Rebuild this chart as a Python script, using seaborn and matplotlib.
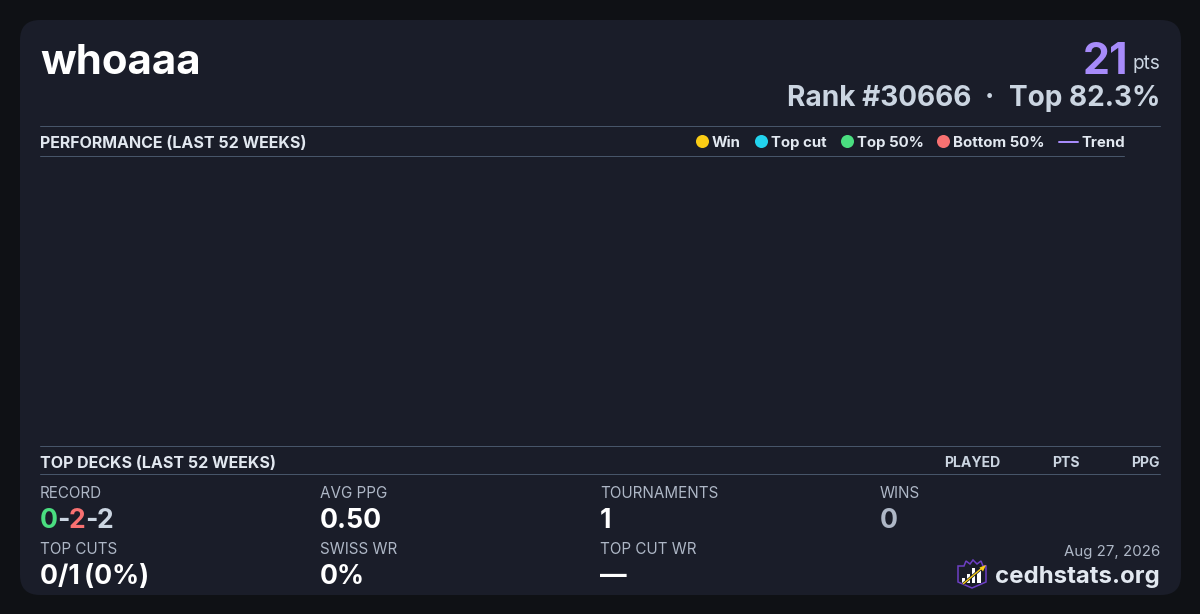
import matplotlib
matplotlib.use('Agg')
import matplotlib.pyplot as plt
from matplotlib.patches import FancyBboxPatch, Polygon, Rectangle
import seaborn as sns
import pandas as pd

player = 'whoaaa'
points = '21'
rank_text = 'Rank #30666'
top_text = 'Top 82.3%'
perf_title = 'PERFORMANCE (LAST 52 WEEKS)'
decks_title = 'TOP DECKS (LAST 52 WEEKS)'
deck_cols = ['PLAYED', 'PTS', 'PPG']
legend_names = ['Win', 'Top cut', 'Top 50%', 'Bottom 50%']
legend_colors = ['#facc15', '#22d3ee', '#4ade80', '#f87171']
stat_labels = ['RECORD', 'AVG PPG', 'TOURNAMENTS', 'WINS', 'TOP CUTS', 'SWISS WR', 'TOP CUT WR']
stat_values = [None, '0.50', '1', '0', '0/1\u2009(0%)', '0%', '—']
record_parts = ['0', '-', '2', '-', '2']
record_colors = ['#4ade80', '#cbd5e1', '#f87171', '#cbd5e1', '#cbd5e1']
date_text = 'Aug 27, 2026'
site = 'cedhstats.org'

PX = 0.72  # px to pt at dpi 100
BG = '#0f1115'
CARD = '#1a1d29'
RULE = '#475569'
WHITE = '#ffffff'
LIGHT = '#e2e8f0'
MUTED = '#cbd5e1'
GREY = '#aeb7c6'
PURPLE = '#a78bfa'

sns.set_theme(style='dark', rc={'figure.facecolor': BG, 'axes.facecolor': BG})
plt.rcParams['font.family'] = ['Inter', 'DejaVu Sans']

fig = plt.figure(figsize=(12, 6.14), dpi=100)
ax = fig.add_axes([0, 0, 1, 1])
ax.set_xlim(0, 1200)
ax.set_ylim(614, 0)
ax.axis('off')


def txt(x, y, s, size, color, weight='normal', ha='left'):
    return ax.text(x, y, s, fontsize=size * PX, color=color, fontweight=weight,
                   ha=ha, va='baseline')


ax.add_patch(FancyBboxPatch((20, 20), 1161, 575, boxstyle='round,pad=0,rounding_size=20',
                            fc=CARD, ec='none', zorder=0))

# header
txt(40, 74, player, 42, WHITE, 'bold')
txt(1160, 69, 'pts', 19, MUTED, ha='right')
txt(1128, 74, points, 43, PURPLE, 'bold', ha='right')
txt(989, 106, '·', 28, MUTED, 'bold', ha='center')
txt(971, 106, rank_text, 28, MUTED, 'bold', ha='right')
txt(1160, 106, top_text, 28, MUTED, 'bold', ha='right')

# section rules
for x1, y in [(1160, 126), (1124, 156), (1160, 446), (1160, 474)]:
    ax.plot([40, x1], [y, y], color=RULE, lw=0.72)
txt(40, 148, perf_title, 16, LIGHT, 'bold')
txt(40, 468, decks_title, 16, LIGHT, 'bold')

# legend row
legend_df = pd.DataFrame({'x': [702.5, 761.5, 847.5, 943.5], 'y': [141.5] * 4, 'name': legend_names})
sns.scatterplot(data=legend_df, x='x', y='y', hue='name', palette=legend_colors,
                s=88, marker='o', linewidth=0, legend=False, ax=ax, zorder=3)
ax.set_xlabel('')
ax.set_ylabel('')
for x, name in zip([712, 771, 857, 953], legend_names):
    txt(x, 147, name, 15, LIGHT, 'bold')
sns.lineplot(x=[1059, 1078], y=[141.5, 141.5], color=PURPLE, lw=1.44, ax=ax, legend=False)
txt(1081, 147, 'Trend', 15, LIGHT, 'bold')

# deck table header
for x, col in zip([1000, 1080, 1160], deck_cols):
    txt(x, 467, col, 14, MUTED, 'bold', ha='right')

# stats
label_pos = [(40, 497.5), (320, 497.5), (600, 497.5), (880, 497.5), (40, 553.5), (320, 553.5), (600, 553.5)]
value_pos = [(40, 528), (320, 528), (600, 528), (880, 528), (40, 584), (320, 584), (600, 584)]
for (lx, ly), (vx, vy), lab, val in zip(label_pos, value_pos, stat_labels, stat_values):
    txt(lx, ly, lab, 15.2, GREY)
    if val is not None:
        txt(vx, vy, val, 26.6, GREY if lab == 'WINS' else WHITE, 'bold')

fig.canvas.draw()
rend = fig.canvas.get_renderer()
cur = 40
for part, col in zip(record_parts, record_colors):
    t = txt(cur, 528, part, 26.6, col, 'bold')
    cur = t.get_window_extent(rend).x1 - 0.8

# footer
txt(1160, 556, date_text, 15, GREY, ha='right')
txt(1160, 583, site, 24, LIGHT, 'bold', ha='right')

# logo
ax.add_patch(Polygon([(958, 566), (964, 566), (966, 561), (970, 564), (973, 560), (977, 564),
                      (981, 561), (983, 566), (986, 566), (986, 582), (972, 588), (958, 582)],
                     closed=True, fc='none', ec='#6d3fc4', lw=1.1, zorder=3))
for bx, bw, top in zip([962, 966.5, 972, 977], [3.2, 3.2, 3.2, 3.6], [578, 574, 568, 570]):
    ax.add_patch(Rectangle((bx, top), bw, 583 - top, fc=WHITE, ec='none', zorder=3))
ax.plot([963, 982], [584, 568], color=CARD, lw=2.0, zorder=4, solid_capstyle='butt')
ax.plot([963, 982], [584, 568], color='#facc15', lw=1.0, zorder=5, solid_capstyle='butt')
ax.add_patch(Polygon([(986, 565), (979.5, 567.5), (983, 571.5)], closed=True,
                     fc='#facc15', ec='none', zorder=5))

fig.savefig('out.png', dpi=100, facecolor=BG)
